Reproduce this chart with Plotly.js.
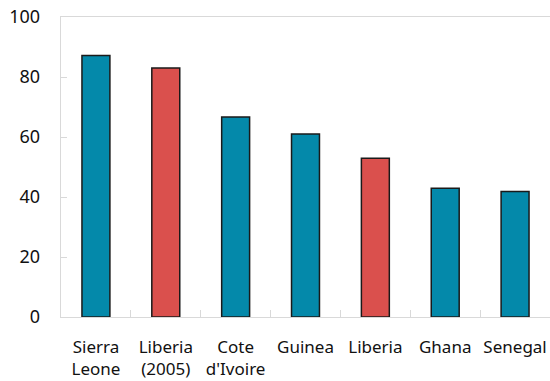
<!DOCTYPE html>
<html>
<head>
<meta charset="utf-8">
<script src="https://cdn.plot.ly/plotly-3.0.1.min.js"></script>
<style>
  html, body { margin: 0; padding: 0; background: #fff; }
  #chart { width: 550px; height: 381px; }
</style>
</head>
<body>
<div id="chart"></div>
<script>
// Country labels (two-line where the label wraps)
const countries = [
  "Sierra<br>Leone",
  "Liberia<br>(2005)",
  "Cote<br>d'Ivoire",
  "Guinea",
  "Liberia",
  "Ghana",
  "Senegal"
];
const values = [87.2, 83.0, 66.7, 61.0, 52.9, 42.9, 41.8];
// Liberia bars are highlighted
const highlighted = [false, true, false, false, true, false, false];

const yTicks = [0, 20, 40, 60, 80, 100];

const TEAL = "#0489AA";
const RED = "#DA504D";
const AXIS_GREY = "#D9D9D9";
const FONT = "'Noto Sans', 'Open Sans', sans-serif";

const trace = {
  type: "bar",
  x: countries,
  y: values,
  marker: {
    color: highlighted.map(h => h ? RED : TEAL),
    line: { color: "#1a1a1a", width: 1.5 }
  },
  hoverinfo: "x+y"
};

const layout = {
  width: 550,
  height: 381,
  margin: { l: 61, r: 0, t: 16.5, b: 63.5 },
  paper_bgcolor: "#ffffff",
  plot_bgcolor: "#ffffff",
  showlegend: false,
  bargap: 0.6,
  font: { family: FONT, size: 17, color: "#111111" },
  xaxis: {
    type: "category",
    showgrid: false,
    showline: true,
    linecolor: AXIS_GREY,
    linewidth: 1.3,
    mirror: true,
    ticks: "inside",
    ticklen: 7,
    tickcolor: AXIS_GREY,
    tickwidth: 1,
    tickson: "boundaries",
    tickangle: 0,
    ticklabelstandoff: 14,
    tickfont: { family: FONT, size: 17, color: "#111111" },
    fixedrange: true
  },
  yaxis: {
    range: [0, 100],
    tickvals: yTicks,
    ticktext: yTicks.map(String),
    showgrid: false,
    zeroline: false,
    showline: true,
    linecolor: AXIS_GREY,
    linewidth: 1.3,
    ticks: "inside",
    ticklen: 6,
    tickcolor: AXIS_GREY,
    tickwidth: 1,
    ticklabelstandoff: 16,
    tickfont: { family: FONT, size: 18, color: "#111111" },
    fixedrange: true
  }
};

Plotly.newPlot("chart", [trace], layout, { displayModeBar: false, staticPlot: true });
</script>
</body>
</html>
